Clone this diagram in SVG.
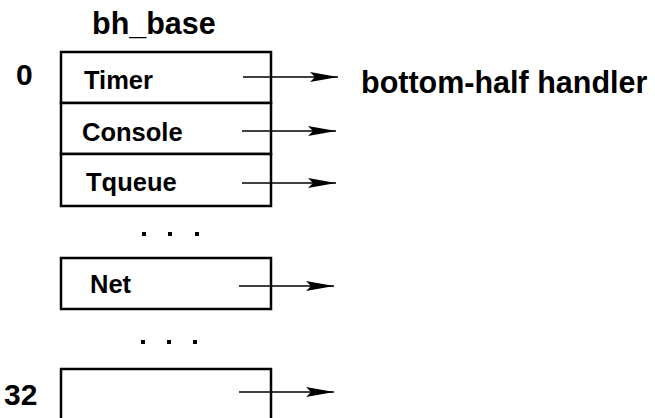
<svg xmlns="http://www.w3.org/2000/svg" width="655" height="418" viewBox="0 0 655 418">
  <style>
    .box { fill: #fff; stroke: #000; stroke-width: 2.5; }
    .lbl { font-family: "Liberation Sans", Arial, sans-serif; font-weight: bold; fill: #000; }
    .slot { font-size: 25.5px; }
    .conn { stroke: #000; stroke-width: 1.3; fill: none; marker-end: url(#arrow); }
    .dot { fill: #000; }
  </style>
  <defs>
    <marker id="arrow" markerUnits="userSpaceOnUse" markerWidth="30" markerHeight="12" refX="28" refY="6" orient="auto">
      <path d="M0,1 L28,6 L0,11 L5,6 Z" fill="#000"/>
    </marker>
  </defs>
  <rect width="655" height="418" fill="#fff"/>

  <text class="lbl" x="92" y="34" font-size="30.5">bh_base</text>
  <text class="lbl" x="16" y="85" font-size="30">0</text>
  <text class="lbl" x="4" y="405" font-size="30">32</text>
  <text class="lbl" x="361" y="93" font-size="30.5">bottom-half handler</text>

  <g id="slot-timer">
    <rect class="box" x="61" y="52" width="210" height="51"/>
    <text class="lbl slot" x="84" y="89">Timer</text>
  </g>
  <g id="slot-console">
    <rect class="box" x="61" y="103" width="210" height="51"/>
    <text class="lbl slot" x="82" y="141">Console</text>
  </g>
  <g id="slot-tqueue">
    <rect class="box" x="61" y="154" width="210" height="52"/>
    <text class="lbl slot" x="86" y="191">Tqueue</text>
  </g>
  <g id="ellipsis-1">
    <rect class="dot" x="142" y="232" width="4" height="4"/>
    <rect class="dot" x="168" y="232" width="4" height="4"/>
    <rect class="dot" x="195" y="232" width="4" height="4"/>
  </g>
  <g id="slot-net">
    <rect class="box" x="61" y="258" width="210" height="51"/>
    <text class="lbl slot" x="90" y="293">Net</text>
  </g>
  <g id="ellipsis-2">
    <rect class="dot" x="141" y="340" width="4" height="4"/>
    <rect class="dot" x="167" y="340" width="4" height="4"/>
    <rect class="dot" x="193" y="340" width="4" height="4"/>
  </g>
  <g id="slot-32">
    <rect class="box" x="61" y="369" width="210" height="60"/>
  </g>

  <g id="connectors">
    <line class="conn" x1="243" y1="77" x2="338" y2="77"/>
    <line class="conn" x1="242" y1="131" x2="336" y2="131"/>
    <line class="conn" x1="242" y1="183" x2="336" y2="183"/>
    <line class="conn" x1="239" y1="286" x2="334" y2="286"/>
    <line class="conn" x1="239" y1="392" x2="334" y2="392"/>
  </g>
</svg>
